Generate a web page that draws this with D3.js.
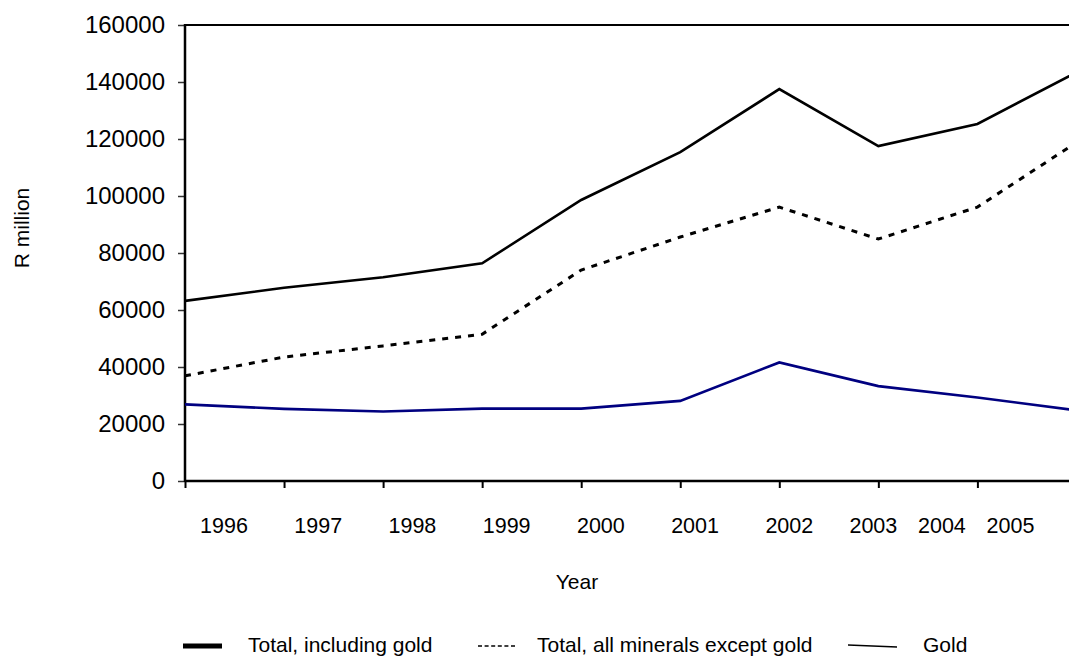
<!DOCTYPE html>
<html>
<head>
<meta charset="utf-8">
<script src="https://cdn.jsdelivr.net/npm/d3@7"></script>
<style>
  html, body { margin: 0; padding: 0; background: #ffffff; }
  svg { display: block; font-family: "Liberation Sans", Arial, sans-serif; }
</style>
</head>
<body>
<svg id="chart" width="1069" height="659"></svg>
<script>
// ---- data ----
const years = [1996, 1997, 1998, 1999, 2000, 2001, 2002, 2003, 2004, 2005];
const totalInclGold = [63200, 67800, 71500, 76400, 98600, 115400, 137500, 117500, 125300, 143400];
const totalExclGold = [36900, 43500, 47400, 51500, 74000, 85600, 96100, 84900, 96100, 118800];
const gold = [26900, 25300, 24400, 25400, 25400, 28100, 41600, 33300, 29300, 24800];
const yTicks = [0, 20000, 40000, 60000, 80000, 100000, 120000, 140000, 160000];
const legendLabels = ["Total, including gold", "Total, all minerals except gold", "Gold"];

// ---- layout ----
const W = 1069, H = 659;
const mLeft = 185, mTop = 25, mBottom = 481;
const step = 99.05;

const svg = d3.select("#chart");
svg.append("rect").attr("width", W).attr("height", H).attr("fill", "#fff");

const x = d3.scaleLinear().domain([years[0], years[0] + 1]).range([mLeft, mLeft + step]);
const y = d3.scaleLinear().domain([0, 160000]).range([mBottom, mTop]);

// label positions (labels in the original are not centred on ticks)
const labelX = d3.scaleLinear()
  .domain([1996, 2002, 2003, 2005])
  .range([x(1996) + 39, x(2002) + 10, x(2003) - 5, x(2005) - 66]);

// clip plot area
svg.append("clipPath").attr("id", "plotclip")
  .append("rect").attr("x", mLeft).attr("y", mTop - 3).attr("width", W - mLeft).attr("height", mBottom - mTop + 6);

// y axis
const yAxis = d3.axisLeft(y).tickValues(yTicks).tickSize(7).tickPadding(13).tickFormat(d3.format("d"));
const gy = svg.append("g").attr("transform", `translate(${mLeft},0)`).call(yAxis);
gy.select(".domain").remove();
gy.selectAll(".tick line").attr("stroke", "#333").attr("stroke-width", 1.5);
gy.selectAll(".tick text").attr("font-size", 24).attr("fill", "#000")
  .attr("font-family", "'Liberation Sans', Arial, sans-serif");

// x axis ticks
const xAxis = d3.axisBottom(x).tickValues(years.slice(0, 9)).tickSize(7).tickFormat("");
const gx = svg.append("g").attr("transform", `translate(0,${mBottom})`).call(xAxis);
gx.select(".domain").remove();
gx.selectAll(".tick line").attr("stroke", "#000").attr("stroke-width", 2);

// x labels
svg.append("g").selectAll("text").data(years).join("text")
  .attr("x", d => labelX(d)).attr("y", 533)
  .attr("text-anchor", "middle").attr("font-size", 21.5).attr("fill", "#000")
  .text(d => d);

// frame lines
svg.append("line").attr("x1", mLeft).attr("x2", W).attr("y1", mTop).attr("y2", mTop)
  .attr("stroke", "#000").attr("stroke-width", 2);
svg.append("line").attr("x1", mLeft).attr("x2", W).attr("y1", mBottom).attr("y2", mBottom)
  .attr("stroke", "#000").attr("stroke-width", 2.5);
svg.append("line").attr("x1", mLeft).attr("x2", mLeft).attr("y1", mTop - 1).attr("y2", mBottom + 1)
  .attr("stroke", "#000").attr("stroke-width", 2.5);

// lines
const line = d3.line().x((d, i) => x(years[i])).y(d => y(d));
const plot = svg.append("g").attr("clip-path", "url(#plotclip)");
plot.append("path").datum(gold).attr("d", line)
  .attr("fill", "none").attr("stroke", "#000080").attr("stroke-width", 2.6).attr("stroke-linejoin", "miter");
plot.append("path").datum(totalExclGold).attr("d", line)
  .attr("fill", "none").attr("stroke", "#000").attr("stroke-width", 3).attr("stroke-dasharray", "6,7");
plot.append("path").datum(totalInclGold).attr("d", line)
  .attr("fill", "none").attr("stroke", "#000").attr("stroke-width", 2.6).attr("stroke-linejoin", "miter");

// axis titles
svg.append("text").attr("x", 577).attr("y", 589).attr("text-anchor", "middle")
  .attr("font-size", 21).attr("fill", "#000").text("Year");
svg.append("text").attr("transform", "translate(29,228) rotate(-90)").attr("text-anchor", "middle")
  .attr("font-size", 21).attr("fill", "#000").text("R million");

// legend
const lg = svg.append("g").attr("font-size", 21).attr("fill", "#000");
lg.append("line").attr("x1", 183).attr("x2", 222).attr("y1", 646).attr("y2", 646)
  .attr("stroke", "#000").attr("stroke-width", 5);
lg.append("text").attr("x", 248).attr("y", 652).text(legendLabels[0]);
lg.append("line").attr("x1", 478).attr("x2", 515).attr("y1", 646).attr("y2", 646)
  .attr("stroke", "#000").attr("stroke-width", 1.5).attr("stroke-dasharray", "4,2.6");
lg.append("text").attr("x", 537).attr("y", 652).text(legendLabels[1]);
lg.append("line").attr("x1", 848).attr("x2", 897).attr("y1", 645).attr("y2", 647)
  .attr("stroke", "#000").attr("stroke-width", 1.5);
lg.append("text").attr("x", 923).attr("y", 652).text(legendLabels[2]);
</script>
</body>
</html>
